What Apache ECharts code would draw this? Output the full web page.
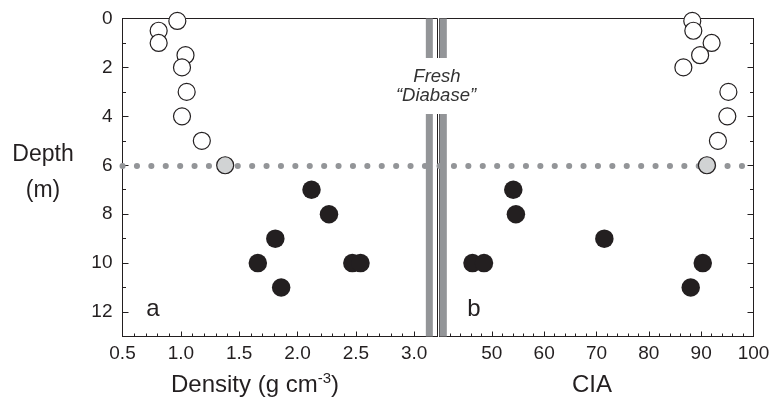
<!DOCTYPE html>
<html>
<head>
<meta charset="utf-8">
<script src="https://cdn.jsdelivr.net/npm/echarts@6/dist/echarts.min.js"></script>
<style>
	html,body{margin:0;padding:0;background:#fff;}
	#main{width:775px;height:398px;}
</style>
</head>
<body>
<div id="main"></div>
<script type="text/javascript">
	//样品深度 (m)，6 m 以上为风化层
	var upperDepth = [0.1, 0.5, 1, 1.5, 2, 3, 4, 5];
	var upperDensity = [0.97, 0.81, 0.81, 1.04, 1.01, 1.05, 1.01, 1.18];
	var upperCIA = [88.3, 88.5, 92.0, 89.8, 86.6, 95.2, 95.0, 93.2];

	var boundaryDepth = [6];
	var boundaryDensity = [1.38];
	var boundaryCIA = [91.1];

	var lowerDepth = [7, 8, 9, 10, 10, 10, 11];
	var lowerDensity = [2.12, 2.27, 1.81, 1.66, 2.47, 2.54, 1.86];
	var lowerCIA = [54.1, 54.6, 71.5, 46.3, 48.5, 90.3, 88.0];

	//新鲜辉绿岩参考带
	var freshDensity = [3.10, 3.16];
	var freshCIA = [40, 41.4];
	var lineDepth = 6;

	var black = '#231f20';
	var gray = '#939598';
	var font = '"Liberation Sans", Arial, sans-serif';

	function pairs(xs, ys){
		return xs.map(function(x, i){ return [x, ys[i]]; });
	}

	function xAxisBase(grid, min, max, interval, len, labels, fmt){
		return {
			gridIndex: grid, type: 'value', position: 'bottom',
			min: min, max: max, interval: interval,
			axisLine: {show: labels, onZero: false, lineStyle: {color: black, width: 1}},
			axisTick: {show: true, inside: true, length: len, lineStyle: {color: black, width: 1}},
			axisLabel: {show: labels, color: black, fontSize: 19, fontFamily: font, margin: 8,
				showMinLabel: grid === 0, showMaxLabel: grid === 1, formatter: fmt},
			splitLine: {show: false}
		};
	}

	function yAxisBase(grid, pos, interval, len, labels){
		return {
			gridIndex: grid, type: 'value', position: pos, inverse: true,
			min: 0, max: 13, interval: interval,
			axisLine: {show: true, onZero: false, lineStyle: {color: black, width: 1}},
			axisTick: {show: true, inside: true, length: len, lineStyle: {color: black, width: 1}},
			axisLabel: {show: !!labels, color: black, fontSize: 19, fontFamily: font, margin: 10, showMaxLabel: false},
			splitLine: {show: false}
		};
	}

	function dots(x0, x1){
		return {
			silent: true, symbol: 'none', z: 1, animation: false,
			label: {show: false},
			lineStyle: {color: gray, width: 6, type: [0.1, 14.3], cap: 'round', opacity: 1},
			emphasis: {disabled: true},
			data: [[{coord: [x0, lineDepth]}, {coord: [x1, lineDepth]}]]
		};
	}

	function band(range){
		return {
			silent: true, z: 3,
			itemStyle: {color: gray, opacity: 1},
			emphasis: {disabled: true},
			data: [[{coord: [range[0], 0]}, {coord: [range[1], 13]}]]
		};
	}

	function points(xi, data, fill, border, size, extra){
		var s = {
			type: 'scatter', xAxisIndex: xi, yAxisIndex: xi, z: 5,
			data: data, symbol: 'circle', symbolSize: size,
			itemStyle: {color: fill, borderColor: border, borderWidth: border ? 1.2 : 0, opacity: 1},
			emphasis: {disabled: true}
		};
		for(var k in extra) s[k] = extra[k];
		return s;
	}

	var myChart = echarts.init(document.getElementById('main'), null, {renderer: 'canvas'});

	var option = {
		animation: false,
		backgroundColor: '#fff',
		grid: [
			{left: 122.5, top: 18.5, width: 315, height: 318, show: true, borderColor: black, borderWidth: 1, backgroundColor: 'transparent'},
			{left: 439.5, top: 18.5, width: 314, height: 318, show: true, borderColor: black, borderWidth: 1, backgroundColor: 'transparent'}
		],
		xAxis: [
			xAxisBase(0, 0.5, 3.2, 0.5, 5, true, function(v){ return v.toFixed(1); }),
			xAxisBase(0, 0.5, 3.2, 0.1, 3, false),
			xAxisBase(1, 40, 100, 10, 5, true),
			xAxisBase(1, 40, 100, 2, 3, false)
		],
		yAxis: [
			yAxisBase(0, 'left', 2, 6, true),
			yAxisBase(0, 'left', 1, 3.5, false),
			yAxisBase(1, 'right', 2, 6, false),
			yAxisBase(1, 'right', 1, 3.5, false)
		],
		series: [
			points(0, pairs(upperDensity, upperDepth), '#fff', black, 17, {markLine: dots(0.5, 3.2), markArea: band(freshDensity)}),
			points(0, pairs(boundaryDensity, boundaryDepth), '#d1d3d4', black, 17),
			points(0, pairs(lowerDensity, lowerDepth), black, null, 18.5),
			points(2, pairs(upperCIA, upperDepth), '#fff', black, 17, {markLine: dots(40, 100), markArea: band(freshCIA)}),
			points(2, pairs(boundaryCIA, boundaryDepth), '#d1d3d4', black, 17),
			points(2, pairs(lowerCIA, lowerDepth), black, null, 18.5)
		],
		graphic: [
			{type: 'rect', z: 100, shape: {x: 421, y: 58, width: 33, height: 56}, style: {fill: '#fff'}},
			{type: 'text', z: 101, x: 437, y: 77, style: {text: 'Fresh', fill: '#333', font: 'italic 18.5px ' + font, align: 'center', verticalAlign: 'middle'}},
			{type: 'text', z: 101, x: 436, y: 96, style: {text: '\u201cDiabase\u201d', fill: '#333', font: 'italic 18.5px ' + font, align: 'center', verticalAlign: 'middle'}},
			{type: 'text', z: 101, x: 43, y: 155, style: {text: 'Depth', fill: black, font: '23px ' + font, align: 'center', verticalAlign: 'middle'}},
			{type: 'text', z: 101, x: 43, y: 191, style: {text: '(m)', fill: black, font: '23px ' + font, align: 'center', verticalAlign: 'middle'}},
			{type: 'text', z: 101, x: 153, y: 309, style: {text: 'a', fill: black, font: '24px ' + font, align: 'center', verticalAlign: 'middle'}},
			{type: 'text', z: 101, x: 474, y: 309, style: {text: 'b', fill: black, font: '24px ' + font, align: 'center', verticalAlign: 'middle'}},
			{type: 'text', z: 101, x: 171, y: 385, style: {
				text: '{n|Density (g cm}{s|-3}{n|)}', fill: black, align: 'left', verticalAlign: 'middle',
				rich: {
					n: {fontSize: 24, fontFamily: font, fill: black},
					s: {fontSize: 15, fontFamily: font, fill: black, padding: [0, 0, 13, 0]}
				}
			}},
			{type: 'text', z: 101, x: 592, y: 385, style: {text: 'CIA', fill: black, font: '24px ' + font, align: 'center', verticalAlign: 'middle'}}
		]
	};

	myChart.setOption(option);
</script>
</body>
</html>
